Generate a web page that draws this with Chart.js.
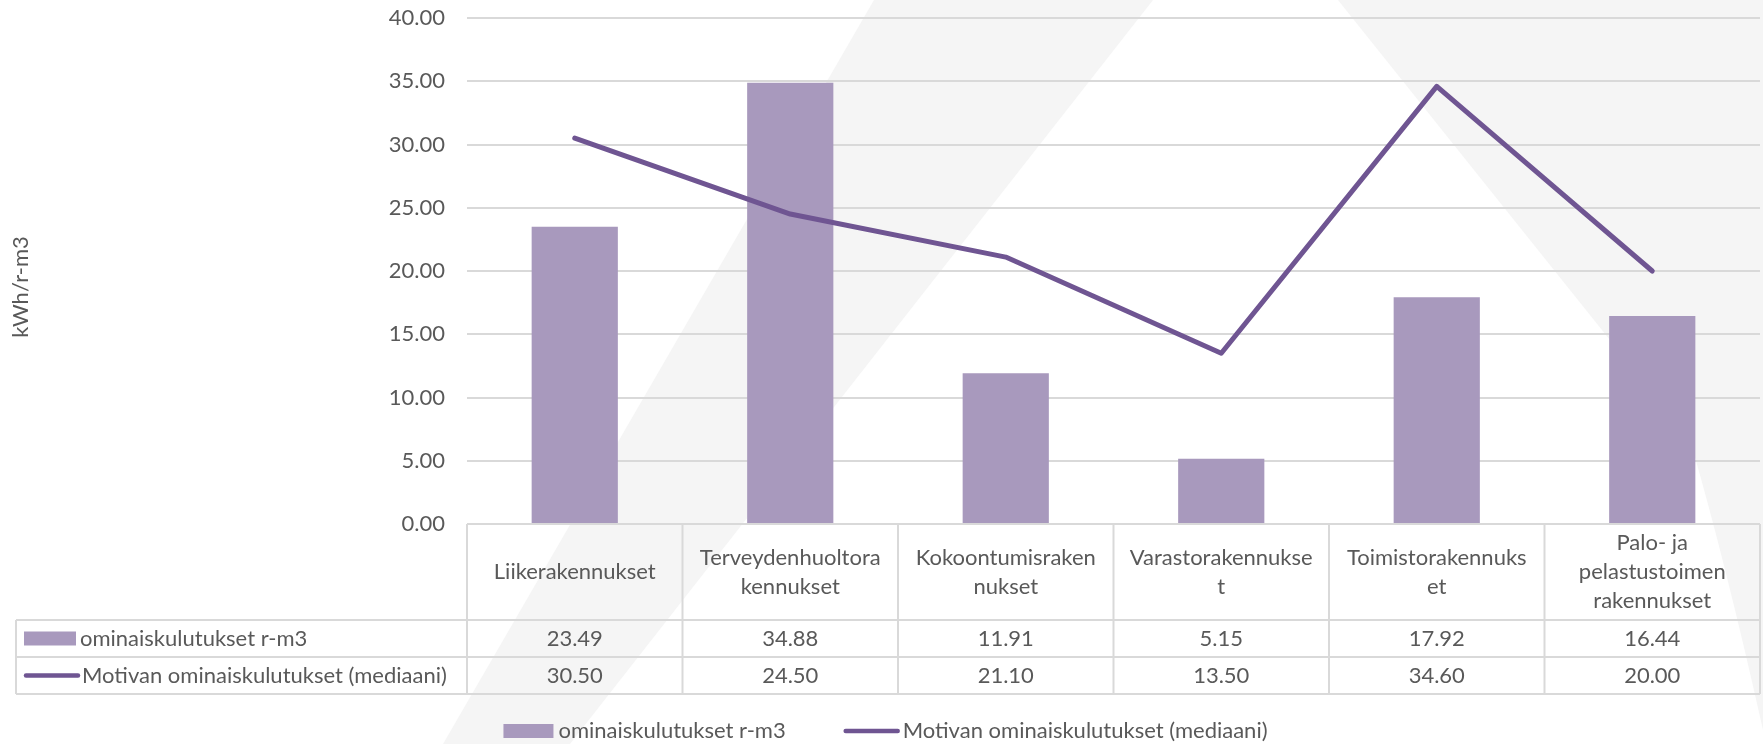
<!DOCTYPE html>
<html>
<head>
<meta charset="utf-8">
<script src="https://cdn.jsdelivr.net/npm/chart.js@4/dist/chart.umd.min.js"></script>
<style>
  html, body { margin: 0; padding: 0; background: #fff; }
</style>
</head>
<body>
<canvas id="chart" width="1763" height="744"></canvas>
<script>
// categories as Excel wraps them in the data table header
const categories = [
  ['Liikerakennukset'],
  ['Terveydenhuoltora', 'kennukset'],
  ['Kokoontumisraken', 'nukset'],
  ['Varastorakennukse', 't'],
  ['Toimistorakennuks', 'et'],
  ['Palo- ja', 'pelastustoimen', 'rakennukset']
];
const consumption = [23.49, 34.88, 11.91, 5.15, 17.92, 16.44];
const motivaMedian = [30.50, 24.50, 21.10, 13.50, 34.60, 20.00];
const seriesNames = ['ominaiskulutukset r-m3', 'Motivan ominaiskulutukset (mediaani)'];
const yTitle = 'kWh/r-m3';
const yMin = 0, yMax = 40, yStep = 5;

const FONT = 'Lato';
const TEXT = '#595959';
const GRID = '#d9d9d9';
const BAR = '#a899bd';
const LINE = '#6f5592';

// faint watermark shapes behind the chart
const watermark = {
  id: 'watermark',
  beforeDraw(chart) {
    const ctx = chart.ctx;
    ctx.save();
    ctx.fillStyle = '#fff';
    ctx.fillRect(0, 0, chart.width, chart.height);
    ctx.fillStyle = '#f5f5f5';
    ctx.beginPath();
    ctx.moveTo(874, 0);
    ctx.lineTo(1153, 0);
    ctx.lineTo(570, 744);
    ctx.lineTo(443, 744);
    ctx.closePath();
    ctx.fill();
    ctx.beginPath();
    ctx.moveTo(1338, 0);
    ctx.lineTo(1763, 0);
    ctx.lineTo(1763, 730);
    ctx.quadraticCurveTo(1725, 560, 1690, 440);
    ctx.closePath();
    ctx.fill();
    ctx.restore();
  }
};

function drawSwatch(ctx, type, x, y, w) {
  if (type === 'bar') {
    ctx.fillStyle = BAR;
    ctx.fillRect(x, y - 7, w, 14);
  } else {
    ctx.strokeStyle = LINE;
    ctx.lineWidth = 4.5;
    ctx.lineCap = 'round';
    ctx.beginPath();
    ctx.moveTo(x + 2, y);
    ctx.lineTo(x + w - 2, y);
    ctx.stroke();
  }
}

// data table under the plot + legend + y title, laid out from the scales
const dataTable = {
  id: 'dataTable',
  afterDraw(chart) {
    const ctx = chart.ctx;
    const xs = chart.scales.x;
    const area = chart.chartArea;
    const n = categories.length;
    const cw = xs.width / n;
    const top = area.bottom;
    const rowH = [96, 37, 37];
    const y1 = top + rowH[0], y2 = y1 + rowH[1], y3 = y2 + rowH[2];
    const tableLeft = 16;

    ctx.save();
    ctx.strokeStyle = GRID;
    ctx.lineWidth = 2;
    ctx.beginPath();
    ctx.moveTo(xs.left, top); ctx.lineTo(xs.right, top);
    [y1, y2, y3].forEach(y => { ctx.moveTo(tableLeft, y); ctx.lineTo(xs.right, y); });
    for (let k = 0; k <= n; k++) {
      const x = xs.left + k * cw;
      ctx.moveTo(x, top); ctx.lineTo(x, y3);
    }
    ctx.moveTo(tableLeft, y1); ctx.lineTo(tableLeft, y3);
    ctx.stroke();

    ctx.fillStyle = TEXT;
    ctx.font = '22px ' + FONT;
    ctx.textAlign = 'center';
    ctx.textBaseline = 'middle';
    const lh = 29;
    categories.forEach((lines, i) => {
      const cx = xs.getPixelForValue(i);
      const cy = top + rowH[0] / 2 - (lines.length - 1) * lh / 2;
      lines.forEach((t, j) => ctx.fillText(t, cx, cy + j * lh));
    });
    const rows = [consumption, motivaMedian];
    const rowY = [y1 + rowH[1] / 2, y2 + rowH[2] / 2];
    rows.forEach((vals, r) => {
      vals.forEach((v, i) => ctx.fillText(v.toFixed(2), xs.getPixelForValue(i), rowY[r]));
    });

    // y axis title
    ctx.save();
    ctx.translate(21, 287);
    ctx.rotate(-Math.PI / 2);
    ctx.fillText(yTitle, 0, 0);
    ctx.restore();

    // row headers
    ctx.textAlign = 'left';
    drawSwatch(ctx, 'bar', 24, rowY[0], 52);
    drawSwatch(ctx, 'line', 24, rowY[1], 56);
    ctx.fillStyle = TEXT;
    ctx.fillText(seriesNames[0], 80, rowY[0]);
    ctx.fillText(seriesNames[1], 82, rowY[1]);

    // legend
    const ly = 731;
    const w1 = ctx.measureText(seriesNames[0]).width;
    const w2 = ctx.measureText(seriesNames[1]).width;
    const total = 50 + 5 + w1 + 58 + 56 + 3 + w2;
    let lx = chart.width / 2 + 4 - total / 2;
    drawSwatch(ctx, 'bar', lx, ly, 50);
    ctx.fillStyle = TEXT;
    ctx.fillText(seriesNames[0], lx + 55, ly);
    lx += 55 + w1 + 58;
    drawSwatch(ctx, 'line', lx, ly, 56);
    ctx.fillStyle = TEXT;
    ctx.fillText(seriesNames[1], lx + 59, ly);
    ctx.restore();
  }
};

new Chart(document.getElementById('chart'), {
  data: {
    labels: categories,
    datasets: [
      {
        type: 'bar',
        label: seriesNames[0],
        data: consumption,
        backgroundColor: BAR,
        borderWidth: 0,
        categoryPercentage: 1,
        barPercentage: 0.4,
        order: 2
      },
      {
        type: 'line',
        label: seriesNames[1],
        data: motivaMedian,
        borderColor: LINE,
        borderWidth: 5,
        borderJoinStyle: 'round',
        borderCapStyle: 'round',
        pointRadius: 0,
        tension: 0,
        order: 1
      }
    ]
  },
  options: {
    responsive: false,
    devicePixelRatio: 1,
    animation: false,
    layout: { padding: { top: 18, right: 3, bottom: 0, left: 0 } },
    plugins: {
      legend: { display: false },
      tooltip: { enabled: false }
    },
    scales: {
      x: {
        ticks: { display: false },
        grid: { display: false },
        border: { display: false },
        afterFit: s => { s.height = 220; }
      },
      y: {
        min: yMin,
        max: yMax,
        ticks: {
          stepSize: yStep,
          padding: 22,
          color: TEXT,
          font: { family: FONT, size: 22 },
          callback: v => v.toFixed(2)
        },
        grid: { color: GRID, lineWidth: 2, drawTicks: false },
        border: { display: false },
        afterFit: s => {
          s.width = 467;
          s.paddingTop = 0;
          s.paddingBottom = 0;
        }
      }
    }
  },
  plugins: [watermark, dataTable]
});
</script>
</body>
</html>
